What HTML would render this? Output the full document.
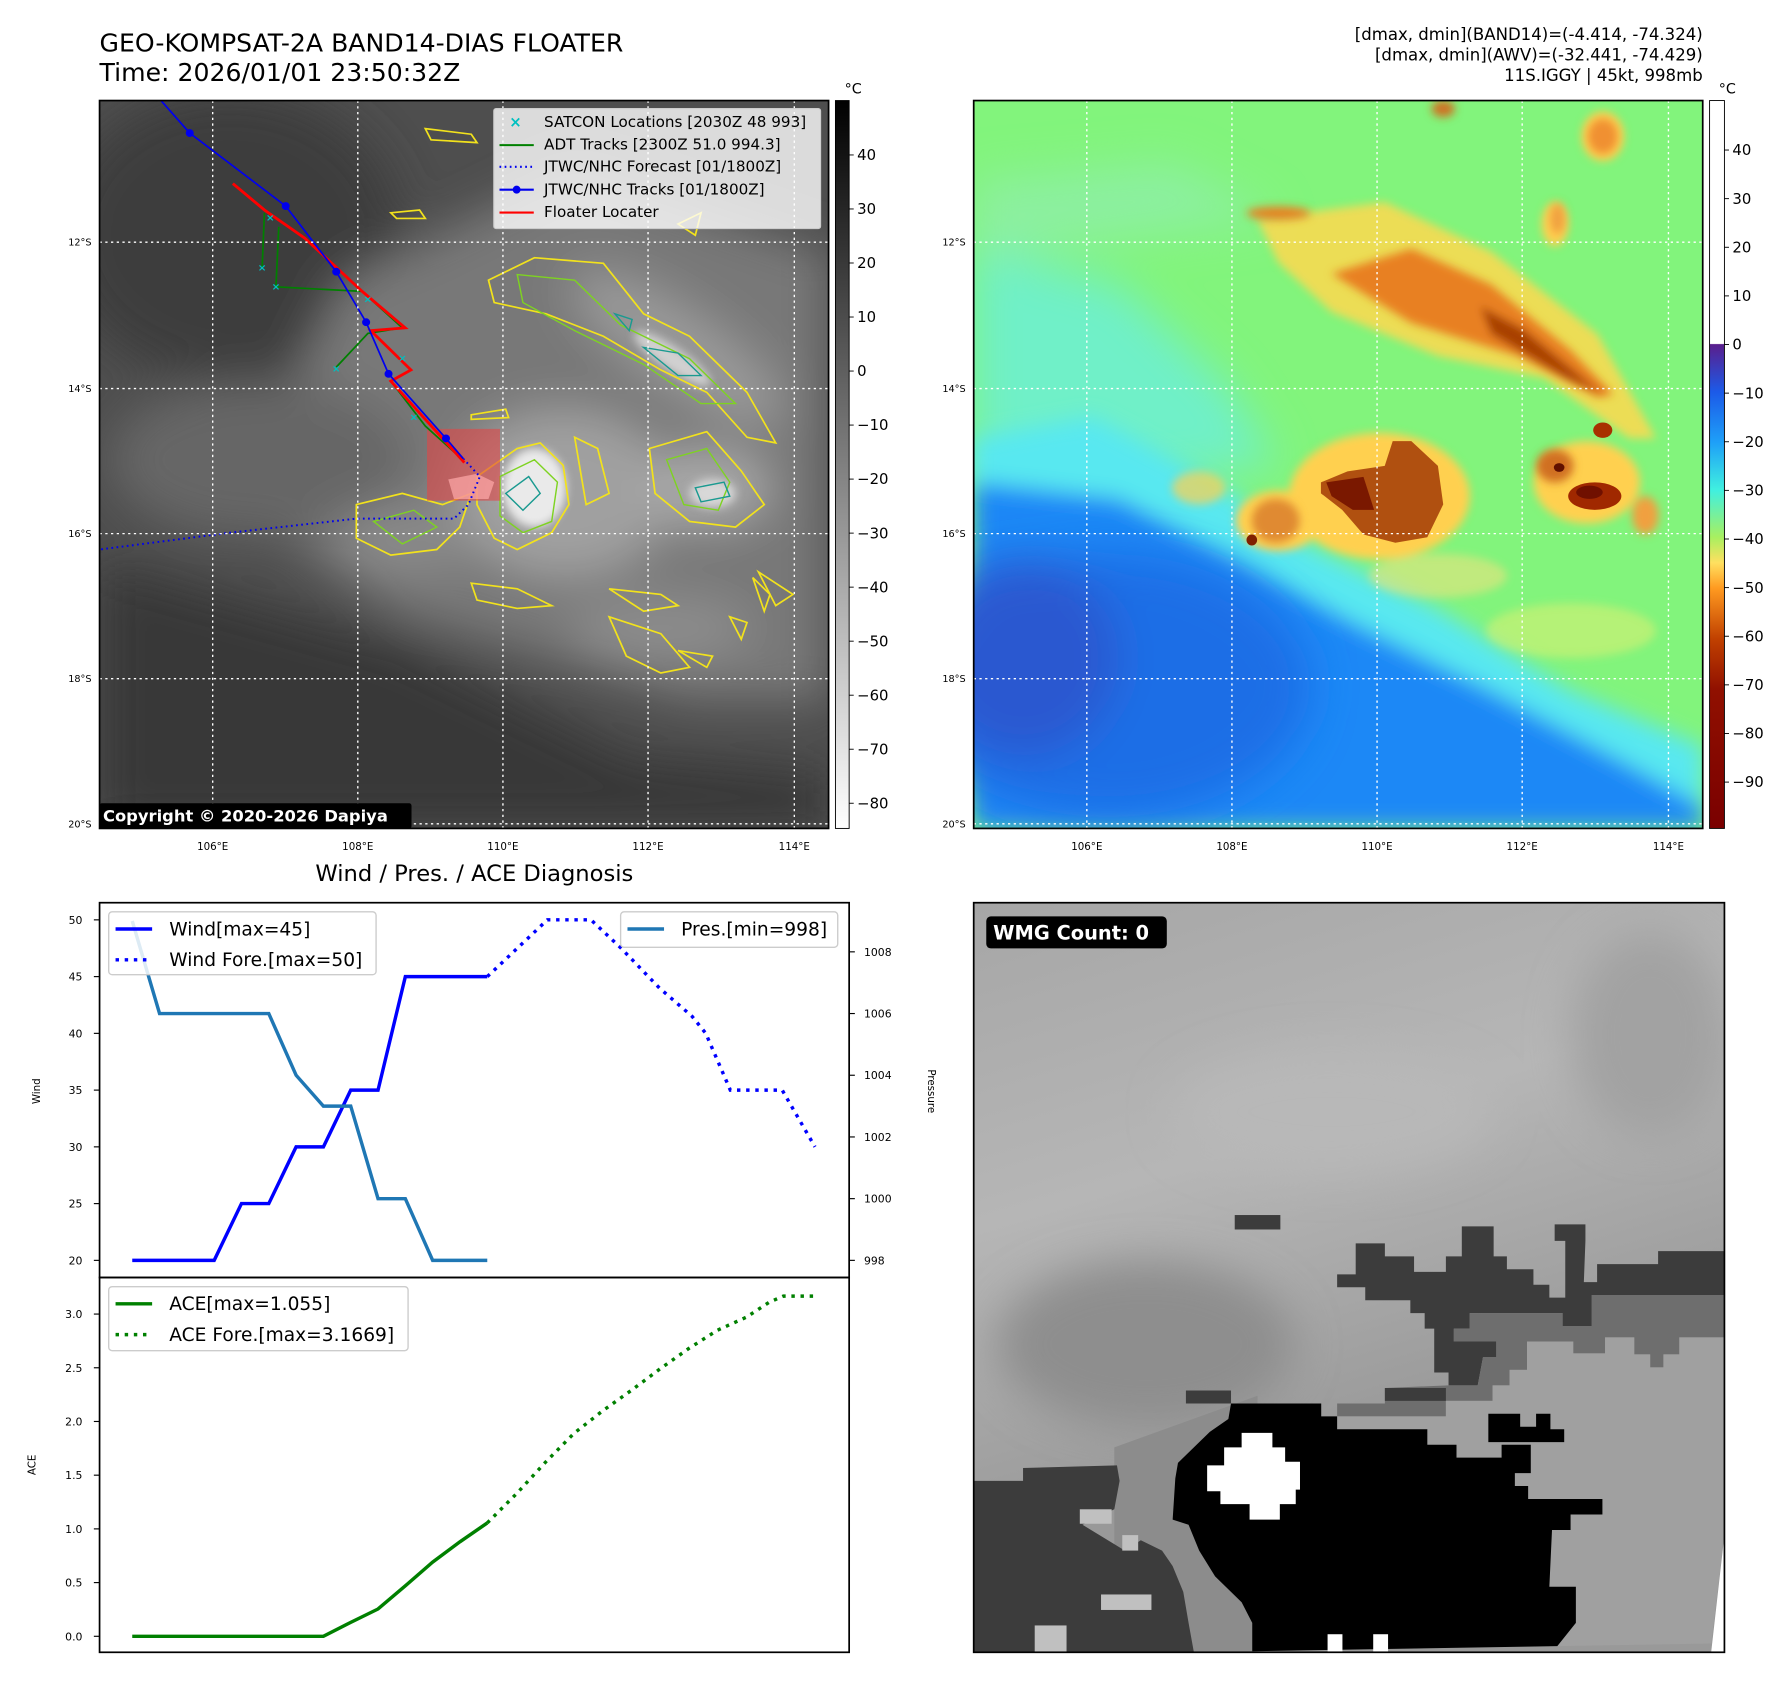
<!DOCTYPE html>
<html><head><meta charset="utf-8">
<style>
html,body{margin:0;padding:0;background:#fff;}
svg text{font-family:"DejaVu Sans","Liberation Sans",sans-serif;}
</style></head>
<body>
<svg id="root" xmlns="http://www.w3.org/2000/svg" width="1792" height="1690" viewBox="0 0 1568 1479">
<defs>
  <filter id="b8" x="-20%" y="-20%" width="140%" height="140%"><feGaussianBlur stdDeviation="8"/></filter>
  <filter id="b20" x="-30%" y="-30%" width="160%" height="160%"><feGaussianBlur stdDeviation="20"/></filter>
  <filter id="b40" x="-30%" y="-30%" width="160%" height="160%"><feGaussianBlur stdDeviation="40"/></filter>
  <linearGradient id="cbGrey" x1="0" y1="0" x2="0" y2="1"><stop offset="0" stop-color="#000"/><stop offset="1" stop-color="#fff"/></linearGradient>
  <linearGradient id="cbJet" x1="0" y1="0" x2="0" y2="1">
    <stop offset="0" stop-color="#fff"/><stop offset="0.334" stop-color="#fff"/>
    <stop offset="0.335" stop-color="#5a1e8c"/><stop offset="0.40" stop-color="#1c5ae8"/>
    <stop offset="0.47" stop-color="#1ea0f8"/><stop offset="0.535" stop-color="#40f0e0"/>
    <stop offset="0.60" stop-color="#a8f060"/><stop offset="0.635" stop-color="#ffe060"/>
    <stop offset="0.67" stop-color="#ff9a20"/><stop offset="0.74" stop-color="#c04000"/>
    <stop offset="0.81" stop-color="#901000"/><stop offset="1" stop-color="#7a0000"/>
  </linearGradient>
  <linearGradient id="brGrad" x1="0" y1="0" x2="0.3" y2="1"><stop offset="0" stop-color="#a6a6a6"/><stop offset="0.4" stop-color="#b6b6b6"/><stop offset="0.8" stop-color="#999"/></linearGradient>
  <clipPath id="clipL"><rect x="87" y="88" width="638" height="637"/></clipPath>
  <clipPath id="clipR"><rect x="852" y="88" width="638" height="637"/></clipPath>
</defs>

<!-- titles -->
<text x="87" y="45" font-size="22">GEO-KOMPSAT-2A BAND14-DIAS FLOATER</text>
<text x="87" y="71" font-size="22">Time: 2026/01/01 23:50:32Z</text>
<g font-size="14.5" text-anchor="end">
  <text x="1490" y="35">[dmax, dmin](BAND14)=(-4.414, -74.324)</text>
  <text x="1490" y="53">[dmax, dmin](AWV)=(-32.441, -74.429)</text>
  <text x="1490" y="71">11S.IGGY | 45kt, 998mb</text>
</g>

<!-- LEFT MAP -->
<g clip-path="url(#clipL)">
<svg x="87" y="88" width="638" height="637" viewBox="173 180 1269 1297" preserveAspectRatio="none">
  <rect x="173" y="180" width="1269" height="1297" fill="#4e4e4e"/>
  <g filter="url(#b40)">
    <ellipse cx="400" cy="420" rx="300" ry="260" fill="#3c3c3c"/>
    <polygon points="173,1000 700,1150 1100,1350 1442,1380 1442,1477 173,1477" fill="#393939"/>
    <polygon points="600,500 1000,300 1442,450 1442,1250 1200,1250 700,1100 400,900" fill="#787878"/>
    <ellipse cx="450" cy="820" rx="260" ry="140" fill="#666"/>
    <ellipse cx="980" cy="880" rx="190" ry="150" fill="#a0a0a0"/>
    <ellipse cx="1180" cy="620" rx="220" ry="70" transform="rotate(35 1180 620)" fill="#999"/>
    <ellipse cx="1230" cy="870" rx="110" ry="70" fill="#a8a8a8"/>
    <ellipse cx="700" cy="960" rx="120" ry="60" fill="#8a8a8a"/>
    <ellipse cx="1150" cy="1120" rx="160" ry="60" fill="#8c8c8c"/>
  </g>
  <g filter="url(#b8)">
    <ellipse cx="930" cy="870" rx="55" ry="70" fill="#eaeaea"/>
    <ellipse cx="1170" cy="640" rx="80" ry="20" transform="rotate(35 1170 640)" fill="#d0d0d0"/>
    <ellipse cx="1240" cy="880" rx="40" ry="25" fill="#d8d8d8"/>
  </g>
  <g fill="none" stroke="#f2e21c" stroke-width="3">
    <path d="M830,850 L900,800 L940,790 L980,830 L990,900 L960,950 L900,980 L860,960 L830,900 Z"/>
    <path d="M850,500 L930,460 L1050,470 L1120,560 L1200,600 L1300,700 L1350,790 L1300,780 L1230,700 L1150,660 L1050,600 L950,560 L860,540 Z"/>
    <path d="M1130,800 L1230,770 L1290,840 L1330,900 L1280,940 L1200,930 L1140,880 Z"/>
    <path d="M620,900 L700,880 L770,900 L820,880 L800,940 L760,980 L680,990 L620,960 Z"/>
    <path d="M820,1040 L900,1050 L960,1080 L900,1085 L830,1070 Z"/>
    <path d="M1060,1050 L1150,1060 L1180,1080 L1120,1090 Z"/>
    <path d="M1060,1100 L1150,1130 L1200,1190 L1150,1200 L1090,1170 Z"/>
    <path d="M820,740 L880,730 L885,745 L820,748 Z"/>
    <path d="M1000,780 L1040,800 L1060,880 L1020,900 Z"/>
    <path d="M680,380 L730,375 L740,390 L690,390 Z"/>
    <path d="M740,230 L820,240 L830,255 L750,250 Z"/>
    <path d="M1180,400 L1220,380 L1210,420 Z"/>
    <path d="M1310,1030 L1340,1060 L1330,1090 Z"/>
    <path d="M1270,1100 L1300,1110 L1290,1140 Z"/>
    <path d="M1320,1020 L1350,1080 L1380,1060 Z"/>
    <path d="M1180,1160 L1240,1170 L1230,1190 Z"/>
  </g>
  <g fill="none" stroke="#7ed321" stroke-width="2.5">
    <path d="M870,850 L930,820 L970,860 L960,930 L910,950 L870,920 Z"/>
    <path d="M900,490 L1000,500 L1080,580 L1200,640 L1280,720 L1220,720 L1120,650 L1000,590 L910,540 Z"/>
    <path d="M1160,820 L1230,800 L1270,860 L1250,910 L1190,900 Z"/>
    <path d="M650,930 L720,910 L760,940 L700,970 Z"/>
  </g>
  <g fill="none" stroke="#1a9a90" stroke-width="2.5">
    <path d="M880,880 L920,850 L940,880 L910,910 Z"/>
    <path d="M1120,620 L1180,630 L1220,670 L1180,670 Z"/>
    <path d="M1210,870 L1260,860 L1270,885 L1220,895 Z"/>
    <path d="M1070,560 L1100,570 L1095,590 Z"/>
  </g>
  <rect x="743" y="765" width="127" height="128" fill="rgba(225,70,70,0.6)"/>
  <path d="M780,855 L830,845 L860,860 L850,890 L790,890 Z" fill="rgba(255,170,170,0.7)"/>
  <polyline points="806,818 835,850 815,900 790,925 620,925 400,950 173,980" fill="none" stroke="#0000ee" stroke-width="3.5" stroke-dasharray="3,6"/>
  <g fill="none" stroke="#008000" stroke-width="3">
    <polyline points="460,380 456,478"/>
    <polyline points="485,405 480,512 630,520 700,585 640,595 585,655"/>
    <polyline points="680,680 740,760 805,820"/>
  </g>
  <polyline points="405,328 460,375 530,425 630,520 705,585 645,590 715,660 680,680 808,825" fill="none" stroke="#ff0000" stroke-width="5"/>
  <polyline points="280,180 330,238 497,368 585,485 637,575 676,667 776,782 806,818" fill="none" stroke="#0000ee" stroke-width="3"/>
  <g fill="#0000ee">
    <circle cx="330" cy="238" r="7"/><circle cx="497" cy="368" r="7"/><circle cx="585" cy="485" r="7"/>
    <circle cx="637" cy="575" r="7"/><circle cx="676" cy="667" r="7"/><circle cx="776" cy="782" r="7"/>
  </g>
  <g fill="#00c0c0" font-size="18" font-weight="bold" text-anchor="middle">
    <text x="456" y="484">×</text><text x="480" y="518">×</text><text x="585" y="664">×</text>
    <text x="470" y="395">×</text><text x="640" y="540">×</text><text x="700" y="645">×</text><text x="720" y="750">×</text>
  </g>
</svg>
</g>
<g stroke="#fff" stroke-width="1.2" stroke-dasharray="2,3">
  <line x1="186" y1="88" x2="186" y2="725"/><line x1="313" y1="88" x2="313" y2="725"/><line x1="440" y1="88" x2="440" y2="725"/><line x1="567" y1="88" x2="567" y2="725"/><line x1="695" y1="88" x2="695" y2="725"/>
  <line x1="87" y1="212" x2="725" y2="212"/><line x1="87" y1="340" x2="725" y2="340"/><line x1="87" y1="467" x2="725" y2="467"/><line x1="87" y1="594" x2="725" y2="594"/><line x1="87" y1="721" x2="725" y2="721"/>
</g>
<rect x="87" y="88" width="638" height="637" fill="none" stroke="#000" stroke-width="1.5"/>
<g>
  <rect x="432" y="95" width="286" height="105" fill="rgba(255,255,255,0.8)" stroke="#ccc" rx="2"/>
  <g font-size="13.3">
    <text x="451" y="111" fill="#00c0c0" font-weight="bold" font-size="13" text-anchor="middle">×</text><text x="476" y="111">SATCON Locations [2030Z 48 993]</text>
    <line x1="437" y1="127" x2="467" y2="127" stroke="#008000" stroke-width="1.8"/><text x="476" y="131">ADT Tracks [2300Z 51.0 994.3]</text>
    <line x1="437" y1="146" x2="467" y2="146" stroke="#0000ee" stroke-width="1.8" stroke-dasharray="1.5,3"/><text x="476" y="150">JTWC/NHC Forecast [01/1800Z]</text>
    <line x1="437" y1="166" x2="467" y2="166" stroke="#0000ee" stroke-width="1.8"/><circle cx="452" cy="166" r="3.5" fill="#0000ee"/><text x="476" y="170">JTWC/NHC Tracks [01/1800Z]</text>
    <line x1="437" y1="186" x2="467" y2="186" stroke="#ff0000" stroke-width="1.8"/><text x="476" y="190">Floater Locater</text>
  </g>
</g>
<g>
  <rect x="87" y="703" width="273" height="22" fill="#000" rx="2"/>
  <text x="90" y="719" font-size="14.3" font-weight="bold" fill="#fff">Copyright © 2020-2026 Dapiya</text>
</g>
<g font-size="8.5" text-anchor="end">
  <text x="80" y="215">12°S</text><text x="80" y="343">14°S</text><text x="80" y="470">16°S</text><text x="80" y="597">18°S</text><text x="80" y="724">20°S</text>
</g>
<g font-size="9" text-anchor="middle">
  <text x="186" y="744">106°E</text><text x="313" y="744">108°E</text><text x="440" y="744">110°E</text><text x="567" y="744">112°E</text><text x="695" y="744">114°E</text>
</g>
<rect x="731" y="88" width="12" height="637" fill="url(#cbGrey)" stroke="#000" stroke-width="0.8"/>
<text x="739" y="82" font-size="12.5">°C</text>
<g id="cbL" font-size="13"></g>

<!-- RIGHT MAP -->
<g clip-path="url(#clipR)">
<svg x="852" y="88" width="638" height="637" viewBox="27 185 1371 1325" preserveAspectRatio="none">
  <rect x="27" y="185" width="1371" height="1325" fill="#82f47c"/>
  <g filter="url(#b40)">
    <polygon points="27,450 300,520 500,700 600,850 27,900" fill="#6ff0c8"/>
    <polygon points="27,330 400,300 600,400 27,470" fill="#8cf0a0"/>
  </g>
  <g filter="url(#b20)">
    <polygon points="27,800 250,760 450,860 650,990 900,1110 1150,1260 1398,1360 1398,1510 27,1510" fill="#58e8f0"/>
    <polygon points="27,880 300,910 500,1010 750,1140 1000,1260 1250,1390 1398,1470 1398,1510 27,1510" fill="#1a88f6"/>
  </g>
  <g filter="url(#b40)">
    <ellipse cx="280" cy="1250" rx="380" ry="240" fill="#1e6ee6"/>
    <ellipse cx="120" cy="1200" rx="180" ry="180" fill="#2a58d0"/>
  </g>
  <g filter="url(#b8)">
    <polygon points="560,400 800,370 1000,460 1200,610 1310,800 1260,800 1100,690 900,650 700,570 600,480" fill="#ffd850" opacity="0.85"/>
    <ellipse cx="790" cy="905" rx="170" ry="115" fill="#ffd050"/>
    <ellipse cx="1180" cy="880" rx="100" ry="75" fill="#ffd050"/>
    <ellipse cx="600" cy="950" rx="80" ry="55" fill="#ffd050"/>
    <ellipse cx="1210" cy="250" rx="40" ry="45" fill="#ffd050"/>
    <ellipse cx="1120" cy="410" rx="25" ry="40" fill="#ffd050"/>
    <ellipse cx="450" cy="890" rx="50" ry="30" fill="#ffd050" opacity="0.7"/>
    <ellipse cx="900" cy="1050" rx="130" ry="40" fill="#ffe080" opacity="0.5"/>
    <ellipse cx="1150" cy="1150" rx="160" ry="50" fill="#e8f070" opacity="0.5"/>
    <ellipse cx="1290" cy="940" rx="25" ry="35" fill="#f0a040"/>
  </g>
  <g filter="url(#b8)">
    <polygon points="700,500 850,455 1000,520 1150,640 1230,720 1200,725 1050,650 850,590" fill="#e88020"/>
    <polygon points="980,560 1060,600 1160,680 1210,720 1140,690 1000,610" fill="#a84000"/>
    <ellipse cx="600" cy="390" rx="60" ry="12" fill="#e88020"/>
    <ellipse cx="1210" cy="250" rx="28" ry="32" fill="#f09030"/>
    <ellipse cx="910" cy="200" rx="22" ry="15" fill="#d07020"/>
    <ellipse cx="1125" cy="400" rx="14" ry="28" fill="#f0a040"/>
    <ellipse cx="595" cy="950" rx="45" ry="40" fill="#e08a30"/>
    <ellipse cx="1120" cy="850" rx="35" ry="30" fill="#d07020"/>
  </g>
  <path d="M680,880 L730,860 L800,850 L815,805 L850,805 L900,850 L910,920 L880,980 L820,990 L760,975 L720,930 L680,900 Z" fill="#b05010"/>
  <path d="M690,880 L760,870 L780,930 L740,930 L700,905 Z" fill="#7a1800"/>
  <ellipse cx="1195" cy="905" rx="50" ry="25" fill="#a02800"/>
  <ellipse cx="1185" cy="898" rx="25" ry="12" fill="#701000"/>
  <ellipse cx="1210" cy="785" rx="18" ry="14" fill="#a83000"/>
  <ellipse cx="550" cy="985" rx="10" ry="10" fill="#802000"/>
  <ellipse cx="1128" cy="853" rx="10" ry="8" fill="#601000"/>
</svg>
</g>
<g stroke="#fff" stroke-width="1.2" stroke-dasharray="2,3">
  <line x1="951" y1="88" x2="951" y2="725"/><line x1="1078" y1="88" x2="1078" y2="725"/><line x1="1205" y1="88" x2="1205" y2="725"/><line x1="1332" y1="88" x2="1332" y2="725"/><line x1="1460" y1="88" x2="1460" y2="725"/>
  <line x1="852" y1="212" x2="1490" y2="212"/><line x1="852" y1="340" x2="1490" y2="340"/><line x1="852" y1="467" x2="1490" y2="467"/><line x1="852" y1="594" x2="1490" y2="594"/><line x1="852" y1="721" x2="1490" y2="721"/>
</g>
<rect x="852" y="88" width="638" height="637" fill="none" stroke="#000" stroke-width="1.5"/>
<g font-size="8.5" text-anchor="end">
  <text x="845" y="215">12°S</text><text x="845" y="343">14°S</text><text x="845" y="470">16°S</text><text x="845" y="597">18°S</text><text x="845" y="724">20°S</text>
</g>
<g font-size="9" text-anchor="middle">
  <text x="951" y="744">106°E</text><text x="1078" y="744">108°E</text><text x="1205" y="744">110°E</text><text x="1332" y="744">112°E</text><text x="1460" y="744">114°E</text>
</g>
<rect x="1496" y="88" width="13" height="637" fill="url(#cbJet)" stroke="#000" stroke-width="0.8"/>
<text x="1504" y="82" font-size="12.5">°C</text>
<g id="cbR" font-size="13"></g>

<!-- BOTTOM RIGHT -->
<g>
<svg x="852" y="790" width="657" height="656" viewBox="25 45 1415 1452" preserveAspectRatio="none">
  <rect x="25" y="45" width="1415" height="1452" fill="url(#brGrad)"/>
  <g filter="url(#b40)">
    <ellipse cx="350" cy="900" rx="280" ry="160" fill="#8e8e8e"/>
    <ellipse cx="700" cy="450" rx="300" ry="120" fill="#b8b8b8"/>
    <ellipse cx="1300" cy="300" rx="150" ry="200" fill="#a2a2a2"/>
  </g>
  <polygon points="290,1100 560,1000 560,1497 290,1497" fill="#8c8c8c"/>
  <rect x="517" y="650" width="86" height="28" fill="#3c3c3c"/>
  <polygon fill="#3c3c3c" points="710,765 745,765 745,705 800,705 800,730 855,730 855,760 915,760 915,730 945,730 945,672 1005,672 1005,730 1030,730 1030,755 1080,755 1080,785 1110,785 1110,810 1140,810 1140,700 1120,700 1120,668 1178,668 1178,700 1175,780 1200,780 1200,745 1315,745 1315,720 1440,720 1440,805 1190,805 1190,865 1135,865 1135,840 960,840 960,870 930,870 930,895 1010,895 1010,925 985,925 975,980 920,980 920,955 893,955 893,870 875,870 875,840 848,840 848,815 763,815 763,790 710,790"/>
  <polygon fill="#6e6e6e" points="960,840 1135,840 1135,865 1190,865 1190,805 1440,805 1440,887 1355,887 1355,920 1325,920 1325,945 1300,945 1300,920 1270,920 1270,887 1215,887 1215,918 1155,918 1155,895 1068,895 1068,950 1035,950 1035,980 1003,980 1003,1010 915,1010 915,1040 710,1040 710,1015 800,1015 800,985 920,980 975,980 985,925 1010,925 1010,895 930,895 930,870 960,870"/>
  <polygon fill="#3c3c3c" points="800,985 915,985 915,1010 800,1010"/>
  <polygon fill="#a0a0a0" points="1068,895 1155,895 1155,918 1215,918 1215,887 1270,887 1270,920 1300,920 1300,945 1325,945 1325,920 1355,920 1355,887 1440,887 1440,1270 1415,1480 1125,1485 1160,1370 1110,1370 1115,1260 1150,1260 1150,1230 1210,1230 1210,1200 1070,1200 1070,1175 1045,1175 1045,1150 1075,1150 1075,1095 1020,1095 1020,1120 935,1120 935,1095 880,1095 880,1065 710,1065 710,1040 915,1040 915,1010 1003,1010 1003,980 1035,980 1035,950 1068,950"/>
  <polygon fill="#3c3c3c" points="425,990 510,990 510,1015 425,1015"/>
  <polygon fill="#000" points="510,1015 680,1015 680,1040 710,1040 710,1065 880,1065 880,1095 935,1095 935,1120 1020,1120 1020,1095 1075,1095 1075,1150 1045,1150 1045,1175 1070,1175 1070,1200 1210,1200 1210,1230 1150,1230 1150,1260 1115,1260 1110,1370 1160,1370 1160,1440 1125,1485 550,1495 550,1440 530,1400 480,1350 450,1300 430,1250 400,1240 405,1160 410,1130 440,1100 470,1070 505,1045"/>
  <polygon fill="#000" points="995,1035 1055,1035 1055,1060 1085,1060 1085,1035 1112,1035 1112,1065 1138,1065 1138,1090 995,1090"/>
  <polygon fill="#fff" points="530,1072 588,1072 588,1100 612,1100 612,1128 640,1128 640,1182 632,1182 632,1210 602,1210 602,1240 545,1240 545,1210 490,1210 490,1185 465,1185 465,1135 497,1135 497,1100 530,1100"/>
  <polygon fill="#3c3c3c" points="25,1165 118,1165 118,1140 295,1135 300,1165 290,1220 230,1250 310,1300 340,1280 380,1300 400,1330 420,1380 430,1440 440,1497 25,1497"/>
  <rect x="140" y="1445" width="60" height="52" fill="#c0c0c0"/>
  <rect x="265" y="1385" width="95" height="30" fill="#c0c0c0"/>
  <rect x="305" y="1270" width="30" height="30" fill="#c0c0c0"/>
  <rect x="225" y="1220" width="60" height="28" fill="#c0c0c0"/>
  <rect x="692" y="1462" width="28" height="35" fill="#fff"/>
  <rect x="778" y="1462" width="28" height="35" fill="#fff"/>
  <polygon fill="#fff" points="1440,1270 1440,1497 1415,1497"/>
</svg>
<rect x="852" y="790" width="657" height="656" fill="none" stroke="#000" stroke-width="1.5"/>
<rect x="863" y="802" width="158" height="28" rx="4" fill="#000"/>
<text x="869" y="822" font-size="17" font-weight="bold" fill="#fff">WMG Count: 0</text>
</g>

<!-- BOTTOM LEFT CHART -->
<text x="415" y="771" font-size="19.8" text-anchor="middle">Wind / Pres. / ACE Diagnosis</text>
<g id="chart"></g>
</svg>

<script>
// Data arrays (time index in 6-hour steps)
var windObsT = [0,1,2,3,4,5,6,7,8,9,10,11,12,13];
var windObs  = [20,20,20,20,25,25,30,30,35,35,45,45,45,45];
var windForeT = [13,15.2,16.8,17.9,19.3,20.5,21.0,21.9,23.8,25];
var windFore  = [45,50,50,47.5,44,41.5,40,35,35,30];
var presT = [0,1,2,3,4,5,6,7,8,9,10,11,12,13];
var presObs = [1009,1006,1006,1006,1006,1006,1004,1003,1003,1000,1000,998,998,998];
var aceObsT = [0,1,2,3,4,5,6,7,8,9,10,11,12,13];
var aceObs  = [0,0,0,0,0,0,0,0,0.13,0.254,0.47,0.69,0.88,1.055];
var aceForeT = [13,14.08,15.13,16.18,17.23,18.28,19.33,20.38,21.43,22.48,23.32,23.84,25];
var aceFore  = [1.055,1.33,1.62,1.89,2.10,2.29,2.49,2.68,2.85,2.97,3.11,3.1669,3.1669];
var windTicks = [20,25,30,35,40,45,50];
var presTicks = [998,1000,1002,1004,1006,1008];
var aceTicks = [0.0,0.5,1.0,1.5,2.0,2.5,3.0];
var irCbTicks = [40,30,20,10,0,-10,-20,-30,-40,-50,-60,-70,-80];
var awvCbTicks = [40,30,20,10,0,-10,-20,-30,-40,-50,-60,-70,-80,-90];

var NS = 'http://www.w3.org/2000/svg';
function xT(t){ return 115.6 + t*23.9; }
function yWind(v){ return 1103 - (v-20)*9.933; }
function yPres(v){ return 1103 - (v-998)*27.0; }
function yAce(v){ return 1432 - v*94.0; }
function yIrCb(v){ return 135.6 + (40-v)*4.728; }
function yAwvCb(v){ return 131.3 + (40-v)*4.255; }
function mk(tag, attrs, parent){ var e=document.createElementNS(NS,tag); for(var k in attrs) e.setAttribute(k,attrs[k]); parent.appendChild(e); return e; }
function pts(ts, vs, yf){ return ts.map(function(t,i){ return xT(t).toFixed(1)+','+yf(vs[i]).toFixed(1); }).join(' '); }
function fmtMinus(v){ return (v<0? '\u2212'+Math.abs(v) : ''+v); }

var chart = document.getElementById('chart');
var f1 = mk('rect',{x:87,y:790,width:656,height:328,fill:'none',stroke:'#000','stroke-width':1.5},chart);


var f2 = mk('rect',{x:87,y:1118,width:656,height:328,fill:'none',stroke:'#000','stroke-width':1.5},chart);



windTicks.forEach(function(v){
  var y=yWind(v);
  mk('line',{x1:82,y1:y,x2:87,y2:y,stroke:'#000','stroke-width':1},chart);
  var t=mk('text',{x:72,y:y+3.5,'font-size':9.5,'text-anchor':'end'},chart); t.textContent=v;
  
  
});
presTicks.forEach(function(v){
  var y=yPres(v);
  mk('line',{x1:743,y1:y,x2:748,y2:y,stroke:'#000','stroke-width':1},chart);
  var t=mk('text',{x:756,y:y+3.5,'font-size':9.5},chart); t.textContent=v;
  
  
});
aceTicks.forEach(function(v){
  var y=yAce(v);
  mk('line',{x1:82,y1:y,x2:87,y2:y,stroke:'#000','stroke-width':1},chart);
  var t=mk('text',{x:72,y:y+3.5,'font-size':9.5,'text-anchor':'end'},chart); t.textContent=v.toFixed(1);
  
  
});
var yl=mk('text',{x:0,y:0,'font-size':9,'text-anchor':'middle',transform:'translate(35,955) rotate(-90)'},chart); yl.textContent='Wind';


var pl=mk('text',{x:0,y:0,'font-size':9,'text-anchor':'middle',transform:'translate(812,955) rotate(90)'},chart); pl.textContent='Pressure';


var al=mk('text',{x:0,y:0,'font-size':9,'text-anchor':'middle',transform:'translate(31,1282) rotate(-90)'},chart); al.textContent='ACE';



var s1=mk('polyline',{points:pts(windObsT,windObs,yWind),fill:'none',stroke:'#0000ff','stroke-width':3},chart);


var s2=mk('polyline',{points:pts(windForeT,windFore,yWind),fill:'none',stroke:'#0000ff','stroke-width':3,'stroke-dasharray':'3,5'},chart);


var s3=mk('polyline',{points:pts(presT,presObs,yPres),fill:'none',stroke:'#1f77b4','stroke-width':3},chart);


var s4=mk('polyline',{points:pts(aceObsT,aceObs,yAce),fill:'none',stroke:'#008000','stroke-width':3},chart);


var s5=mk('polyline',{points:pts(aceForeT,aceFore,yAce),fill:'none',stroke:'#008000','stroke-width':3,'stroke-dasharray':'3,5'},chart);



function legend(x,y,w,h,items,name){
  var g=mk('g',{},chart);
  
  
  mk('rect',{x:x,y:y,width:w,height:h,rx:3,fill:'rgba(255,255,255,0.85)',stroke:'#ccc','stroke-width':1.2},g);
  items.forEach(function(it,i){
    var yy=y+15+i*27;
    var a={x1:x+6,y1:yy,x2:x+38,y2:yy,stroke:it.c,'stroke-width':3};
    if(it.d) a['stroke-dasharray']='3,5';
    mk('line',a,g);
    var t=mk('text',{x:x+53,y:yy+5.5,'font-size':16.3},g); t.textContent=it.t;
  });
}
legend(95,798,234,55,[{c:'#0000ff',t:'Wind[max=45]'},{c:'#0000ff',t:'Wind Fore.[max=50]',d:1}],'wind-legend');
legend(543,798,190,31,[{c:'#1f77b4',t:'Pres.[min=998]'}],'pressure-legend');
legend(95,1126,262,56,[{c:'#008000',t:'ACE[max=1.055]'},{c:'#008000',t:'ACE Fore.[max=3.1669]',d:1}],'ace-legend');

var cbL=document.getElementById('cbL');
irCbTicks.forEach(function(v){
  var y=yIrCb(v);
  mk('line',{x1:743,y1:y,x2:747,y2:y,stroke:'#000','stroke-width':0.8},cbL);
  var t=mk('text',{x:750,y:y+4.5},cbL); t.textContent=fmtMinus(v);
  
  
});
var cbR=document.getElementById('cbR');
awvCbTicks.forEach(function(v){
  var y=yAwvCb(v);
  mk('line',{x1:1509,y1:y,x2:1513,y2:y,stroke:'#000','stroke-width':0.8},cbR);
  var t=mk('text',{x:1516,y:y+4.5},cbR); t.textContent=fmtMinus(v);
  
  
});
</script>
</body></html>
